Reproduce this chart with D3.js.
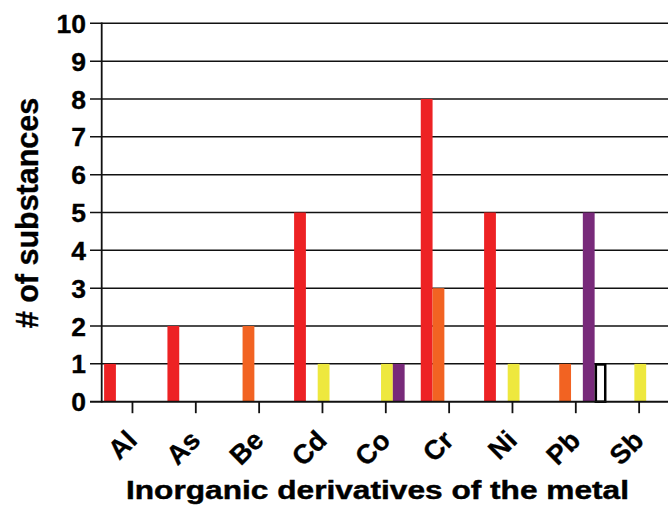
<!DOCTYPE html>
<html>
<head>
<meta charset="utf-8">
<script src="https://cdn.jsdelivr.net/npm/d3@7"></script>
<style>
  html, body { margin: 0; padding: 0; background: #fff; }
  svg { display: block; font-family: "Liberation Sans", Arial, sans-serif; font-weight: bold; }
</style>
</head>
<body>
<svg id="chart" width="668" height="506"></svg>
<script>
// ---- data ----
const categories = ["Al", "As", "Be", "Cd", "Co", "Cr", "Ni", "Pb", "Sb"];
const seriesNames = ["red", "orange", "yellow", "purple", "white"];
const redValues    = [1, 2, 0, 5, 0, 8, 5, 0, 0];
const orangeValues = [0, 0, 2, 0, 0, 3, 0, 1, 0];
const yellowValues = [0, 0, 0, 1, 1, 0, 1, 0, 1];
const purpleValues = [0, 0, 0, 0, 1, 0, 0, 5, 0];
const whiteValues  = [0, 0, 0, 0, 0, 0, 0, 1, 0];
const yTicks = [0, 1, 2, 3, 4, 5, 6, 7, 8, 9, 10];
const yTitle = "# of substances";
const xTitle = "Inorganic derivatives of the metal";

const seriesValues = [redValues, orangeValues, yellowValues, purpleValues, whiteValues];
const fills   = ["#ED2224", "#F26322", "#EEE83E", "#782A7A", "#FFFFFF"];

// ---- layout ----
const svg = d3.select("#chart");
const axisX = 101.7, y0px = 401.7, y10px = 23.3;

const x = d3.scaleBand().domain(categories).range([100.8, 670.8]).padding(0);
const inner = d3.scaleBand().domain(seriesNames).range([3.3, 3.3 + 5 * 11.8]).padding(0);
const y = d3.scaleLinear().domain([0, 10]).range([y0px, y10px]);

// gridlines (also act as outward ticks)
svg.append("g").selectAll("line").data(yTicks).join("line")
  .attr("x1", 90).attr("x2", 668)
  .attr("y1", d => y(d)).attr("y2", d => y(d))
  .attr("stroke", "#111").attr("stroke-width", 1.5);

// bars
const bars = [];
categories.forEach((c, i) => {
  seriesNames.forEach((s, j) => {
    const v = seriesValues[j][i];
    if (v > 0) bars.push({ c, s, j, v });
  });
});
svg.append("g").selectAll("rect").data(bars).join("rect")
  .attr("x", d => x(d.c) + inner(d.s) + (d.s === "white" ? 1.2 : 0))
  .attr("width", d => inner.bandwidth() - (d.s === "white" ? 2.4 : 0))
  .attr("y", d => y(d.v) + (d.s === "white" ? 0.6 : 0))
  .attr("height", d => y(0) - y(d.v) - (d.s === "white" ? 0.6 : 0))
  .attr("fill", d => fills[d.j])
  .attr("stroke", d => d.s === "white" ? "#000" : "none")
  .attr("stroke-width", 2.5);

// y axis line
svg.append("line")
  .attr("x1", axisX).attr("x2", axisX)
  .attr("y1", y(10) - 0.7).attr("y2", y(0) + 0.7)
  .attr("stroke", "#111").attr("stroke-width", 1.8);

// x axis baseline
svg.append("line")
  .attr("x1", 90).attr("x2", 668)
  .attr("y1", y(0)).attr("y2", y(0))
  .attr("stroke", "#111").attr("stroke-width", 1.8);

// x ticks
svg.append("g").selectAll("line").data(categories).join("line")
  .attr("x1", d => x(d) + x.bandwidth() / 2).attr("x2", d => x(d) + x.bandwidth() / 2)
  .attr("y1", y(0)).attr("y2", y(0) + 11.5)
  .attr("stroke", "#111").attr("stroke-width", 1.8);

// y tick labels
svg.append("g").selectAll("text").data(yTicks).join("text")
  .attr("x", 86).attr("y", d => y(d)).attr("dy", "0.36em")
  .attr("text-anchor", "end")
  .attr("font-size", 26.5)
  .attr("fill", "#000").attr("stroke", "#000").attr("stroke-width", 0.35)
  .text(d => d);

// x tick labels (rotated)
svg.append("g").selectAll("text").data(categories).join("text")
  .attr("text-anchor", "end")
  .attr("font-size", 27)
  .attr("fill", "#000").attr("stroke", "#000").attr("stroke-width", 0.35)
  .attr("transform", d => `translate(${x(d) + x.bandwidth() / 2 + 6},442) rotate(-45)`)
  .text(d => d);

// y title
svg.append("text")
  .attr("transform", "translate(38,213) rotate(-90)")
  .attr("text-anchor", "middle")
  .attr("font-size", 30.5)
  .attr("fill", "#000").attr("stroke", "#000").attr("stroke-width", 0.35)
  .text(yTitle);

// x title
svg.append("text")
  .attr("x", 126).attr("y", 499)
  .attr("font-size", 26)
  .attr("textLength", 503)
  .attr("lengthAdjust", "spacingAndGlyphs")
  .attr("fill", "#000").attr("stroke", "#000").attr("stroke-width", 0.45)
  .text(xTitle);
</script>
</body>
</html>
